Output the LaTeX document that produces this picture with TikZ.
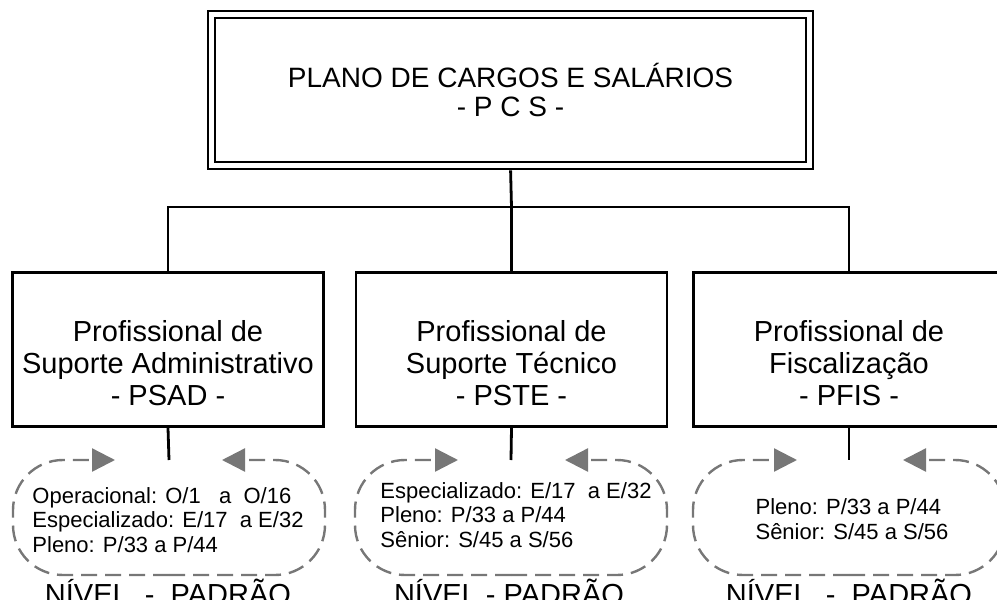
\documentclass[tikz,border=0pt]{standalone}
\usepackage{fontspec}
\setmainfont{Liberation Sans}
\usetikzlibrary{positioning, calc, arrows.meta}
\definecolor{cinza}{HTML}{777777}
\tikzset{
    titulo/.style={
        rectangle,
        draw=black,
        double,                  % borda dupla como no original
        double distance=4.2pt,
        line width=2.8pt,
        minimum width=598pt,
        minimum height=151pt,
        align=center,
        font=\fontsize{28}{29}\selectfont
    },
    caixa/.style={
        rectangle,
        draw=black,
        line width=2.8pt,
        minimum width=311pt,
        minimum height=154pt,
        inner sep=0pt
    },
    rotulo/.style={
        align=center,
        inner sep=0pt,
        font=\fontsize{29}{32}\selectfont
    },
    faixa/.style={
        rectangle,
        minimum width=312pt,
        minimum height=115pt,
        inner sep=0pt,
        outer sep=0pt
    },
    faixatexto/.style={
        align=left,
        inner sep=0pt,
        font=\fontsize{22}{24.5}\selectfont
    },
    nivel/.style={
        inner sep=0pt,
        anchor=base,
        font=\fontsize{29}{32}\selectfont
    },
    ligacao/.style={
        draw=black,
        line width=2.8pt
    },
    laco/.style={
        draw=cinza,
        line width=2.4pt,
        dash pattern=on 16pt off 8pt,
        rounded corners=50pt,
        -{Triangle[length=23pt,width=23pt]}
    }
}

\begin{document}
\begin{tikzpicture}[x=1pt, y=-1pt]

    \useasboundingbox (0,0) rectangle (997,600);
    \clip (0,0) rectangle (997,600);

    % Caixa principal
    \node[titulo] (pcs) at (510.5,90) {PLANO DE CARGOS E SALÁRIOS\\- P C S -};

    % Ponto de ramificação
    \coordinate (juncao) at (511.5,207);

    % As tres carreiras
    \node[caixa] (psad) at (168,349.5) {};
    \node[caixa] (pste) at (511.5,349.5) {};
    \node[caixa] (pfis) at (849,349.5) {};

    \node[rotulo] (tpsad) at (168,363) {Profissional de\\Suporte Administrativo\\- PSAD -};
    \node[rotulo] (tpste) at (511.5,363) {Profissional de\\Suporte Técnico\\- PSTE -};
    \node[rotulo] (tpfis) at (849,363) {Profissional de\\Fiscalização\\- PFIS -};

    % Faixas de níveis (tracejadas)
    \node[faixa] (fpsad) at (169,517.5) {};
    \node[faixa] (fpste) at (511,517.5) {};
    \node[faixa] (fpfis) at (849,517.5) {};

    \node[faixatexto] (lpsad) at (168,520) {Operacional: O/1\ \ \ a\ \ O/16\\Especializado: E/17\ \ a E/32\\Pleno: P/33 a P/44};
    \node[faixatexto] (lpste) at (516,515) {Especializado: E/17\ \ a E/32\\Pleno: P/33 a P/44\\Sênior: S/45 a S/56};
    \node[faixatexto] (lpfis) at (852,519) {Pleno: P/33 a P/44\\Sênior: S/45 a S/56};

    % Legendas de baixo
    \node[nivel] (npsad) at (168,604) {NÍVEL\ \ -\ \ PADRÃO};
    \node[nivel] (npste) at (509,604) {NÍVEL - PADRÃO};
    \node[nivel] (npfis) at (849,604) {NÍVEL\ \ -\ \ PADRÃO};

    % Ligações
    \draw[ligacao, shorten <=3.5pt] (pcs.south) -- (juncao);
    \draw[ligacao] (psad.north) |- (juncao) -| (pfis.north);
    \draw[ligacao] (juncao) -- (pste.north);
    \draw[ligacao] (psad.south) -- (fpsad.north);
    \draw[ligacao] (pste.south) -- (fpste.north);
    \draw[ligacao] (pfis.south) -- (fpfis.north);

    % Setas tracejadas em volta das faixas
    \draw[laco] (fpsad.south) -- (fpsad.south west) -- (fpsad.north west) -- ($(fpsad.north)+(-54,0)$);
    \draw[laco] (fpsad.south) -- (fpsad.south east) -- (fpsad.north east) -- ($(fpsad.north)+(53,0)$);
    \draw[laco] (fpste.south) -- (fpste.south west) -- (fpste.north west) -- ($(fpste.north)+(-53,0)$);
    \draw[laco] (fpste.south) -- (fpste.south east) -- (fpste.north east) -- ($(fpste.north)+(54,0)$);
    \draw[laco] (fpfis.south) -- (fpfis.south west) -- (fpfis.north west) -- ($(fpfis.north)+(-52,0)$);
    \draw[laco] (fpfis.south) -- (fpfis.south east) -- (fpfis.north east) -- ($(fpfis.north)+(54,0)$);

\end{tikzpicture}
\end{document}
